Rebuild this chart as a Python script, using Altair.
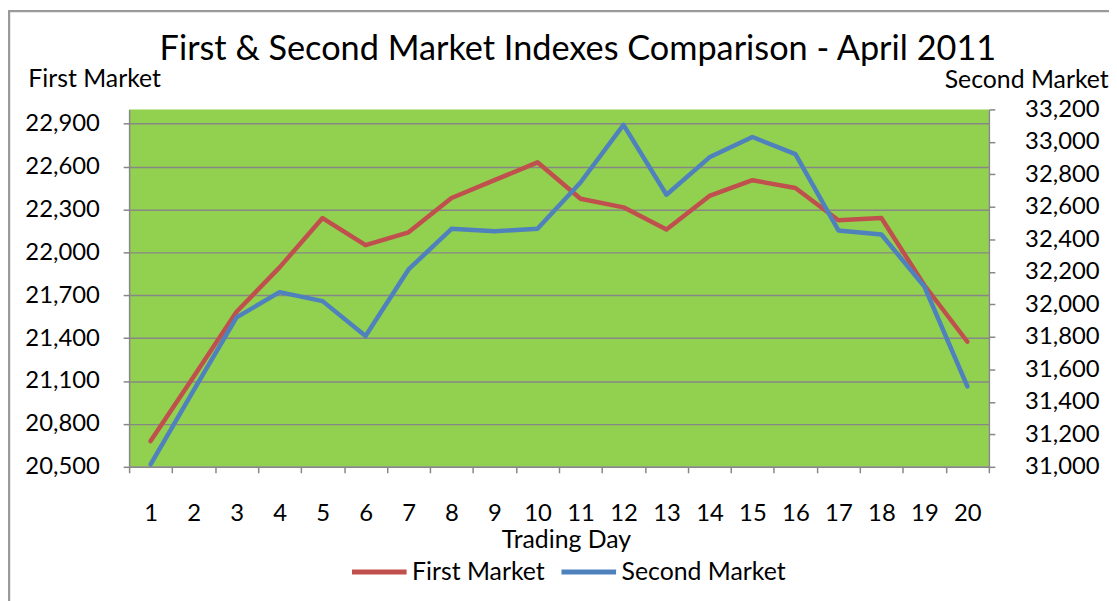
import altair as alt
import pandas as pd

days = list(range(1, 21))
first_market = [20680, 21130, 21585, 21895, 22240, 22050, 22140, 22380, 22505, 22630,
                22375, 22315, 22160, 22395, 22505, 22450, 22225, 22240, 21770, 21375]
second_market = [31015, 31470, 31920, 32075, 32020, 31805, 32215, 32465, 32450, 32465,
                 32750, 33105, 32675, 32905, 33030, 32925, 32455, 32430, 32110, 31495]
left_ticks = [20500, 20800, 21100, 21400, 21700, 22000, 22300, 22600, 22900]
right_ticks = [31000, 31200, 31400, 31600, 31800, 32000, 32200, 32400, 32600, 32800, 33000, 33200]
series = ["First Market", "Second Market"]
colors = ["#C0504D", "#4F81BD"]

df = pd.DataFrame({
    "Day": days + days,
    "Market": [series[0]] * len(days) + [series[1]] * len(days),
    "Value": first_market + second_market,
})

FONT = "Lato"
GRAY = "#878787"
W, H = 866, 360

color_enc = alt.Color(
    "Market:N",
    scale=alt.Scale(domain=series, range=colors),
    legend=alt.Legend(
        title=None, orient="none", direction="horizontal", columns=2,
        legendX=222, legendY=436, padding=0,
        symbolType="stroke", symbolSize=3025, symbolStrokeWidth=5,
        labelFont=FONT, labelFontSize=25, labelColor="#000000", labelLimit=400,
        labelOffset=3, columnPadding=6,
    ),
)

x_enc = alt.X(
    "Day:O",
    scale=alt.Scale(type="band", paddingInner=0, paddingOuter=0),
    axis=alt.Axis(
        title="Trading Day", labelAngle=0, tickBand="extent", grid=False,
        labelFont=FONT, labelFontSize=24, labelColor="#000000",
        labelBaseline="alphabetic", labelPadding=48,
        tickSize=6, tickColor=GRAY, tickWidth=1.5, domainColor=GRAY, domainWidth=1.5,
        titleFont=FONT, titleFontSize=25, titleFontWeight="normal", titleColor="#000000",
        titleX=440, titleY=81, titleAlign="center", titleBaseline="alphabetic",
    ),
)

line_props = dict(strokeWidth=4.5, strokeCap="round", strokeJoin="round")

first = alt.Chart(df).transform_filter(
    alt.datum.Market == series[0]
).mark_line(**line_props).encode(
    x=x_enc,
    y=alt.Y(
        "Value:Q",
        scale=alt.Scale(domain=[20500, 23000], nice=False, zero=False),
        axis=alt.Axis(
            orient="left", values=left_ticks, format=",.0f",
            title="First Market", titleAngle=0, titleX=-102, titleY=-23,
            titleAlign="left", titleBaseline="alphabetic",
            titleFont=FONT, titleFontSize=25, titleFontWeight="normal", titleColor="#000000",
            labelFont=FONT, labelFontSize=24, labelColor="#000000", labelPadding=24,
            tickSize=6, tickColor=GRAY, tickWidth=1.5, domainColor=GRAY, domainWidth=1.5,
            grid=True, gridColor=GRAY, gridWidth=1.5, gridOpacity=1,
        ),
    ),
    color=color_enc,
)

second = alt.Chart(df).transform_filter(
    alt.datum.Market == series[1]
).mark_line(**line_props).encode(
    x=x_enc,
    y=alt.Y(
        "Value:Q",
        scale=alt.Scale(domain=[31000, 33200], nice=False, zero=False),
        axis=alt.Axis(
            orient="right", values=right_ticks, format=",.0f",
            title="Second Market", titleAngle=0, titleX=-45, titleY=-22,
            titleAlign="left", titleBaseline="alphabetic",
            titleFont=FONT, titleFontSize=25, titleFontWeight="normal", titleColor="#000000",
            labelFont=FONT, labelFontSize=24, labelColor="#000000", labelPadding=30,
            tickSize=6, tickColor=GRAY, tickWidth=1.5, domainColor=GRAY, domainWidth=1.5,
            grid=False,
        ),
    ),
    color=color_enc,
)

frame = alt.Chart(pd.DataFrame({"f": [0]})).mark_rect(
    fillOpacity=0, stroke="#9a9a9a", strokeWidth=2.5
).encode(
    x=alt.value(-121), x2=alt.value(1200), y=alt.value(-99), y2=alt.value(700)
)

chart = alt.layer(frame, first, second).resolve_scale(
    y="independent"
).properties(
    width=W, height=H,
    background="#FFFFFF",
    title=alt.Title(
        "First & Second Market Indexes Comparison - April 2011",
        font=FONT, fontSize=34.5, fontWeight="normal", color="#000000",
        anchor="middle", frame="group", baseline="alphabetic", offset=11, dx=19, dy=96,
    ),
    autosize=alt.AutoSizeParams(type="none"),
    padding={"left": 122, "top": 100, "right": 121, "bottom": 133},
).configure_view(
    fill="#92D050", stroke=None
)

chart.save("out.html", embed_options={"renderer": "svg", "actions": False})
